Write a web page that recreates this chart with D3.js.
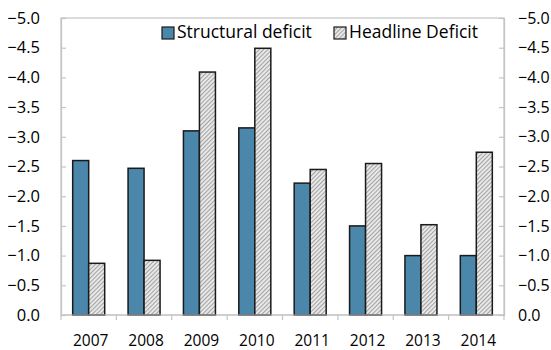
<!DOCTYPE html>
<html>
<head>
<meta charset="utf-8">
<script src="https://cdn.jsdelivr.net/npm/d3@7"></script>
<style>
  html, body { margin: 0; padding: 0; background: #fff; }
  svg { display: block; }
  text { font-family: "Open Sans", "Noto Sans", sans-serif; fill: #000; }
</style>
</head>
<body>
<svg id="chart" width="551" height="350"></svg>
<script>
// Budget balance, % of GDP
const years = ["2007", "2008", "2009", "2010", "2011", "2012", "2013", "2014"];
const structuralDeficit = [-2.6, -2.47, -3.1, -3.15, -2.22, -1.5, -1.0, -1.0];
const headlineDeficit = [-0.87, -0.92, -4.09, -4.49, -2.45, -2.55, -1.52, -2.74];
const seriesNames = ["Structural deficit", "Headline Deficit"];
const yTicks = [0, -0.5, -1.0, -1.5, -2.0, -2.5, -3.0, -3.5, -4.0, -4.5, -5.0];

const svg = d3.select("#chart");
const margin = { left: 61, right: 47, top: 18, bottom: 35 };
const W = 551, H = 350;
const plotW = W - margin.left - margin.right;
const plotH = H - margin.top - margin.bottom;

// Fine diagonal hatch for the headline deficit bars
const defs = svg.append("defs");
const pat = defs.append("pattern")
  .attr("id", "hatch")
  .attr("patternUnits", "userSpaceOnUse")
  .attr("width", 3).attr("height", 3)
  .attr("patternTransform", "rotate(45)");
pat.append("rect").attr("width", 3).attr("height", 3).attr("fill", "#ebebeb");
pat.append("line").attr("x1", 0.5).attr("y1", 0).attr("x2", 0.5).attr("y2", 3)
  .attr("stroke", "#a3a3a3").attr("stroke-width", 1.2);

const g = svg.append("g").attr("transform", `translate(${margin.left},${margin.top})`);

const x = d3.scaleBand().domain(years).range([0, plotW]);
const y = d3.scaleLinear().domain([0, -5]).range([plotH, 0]);

const barW = 16;
const fills = ["#4a87aa", "url(#hatch)"];
const series = [structuralDeficit, headlineDeficit];

// Plot frame
g.append("rect").attr("x", 0).attr("y", 0).attr("width", plotW).attr("height", plotH)
  .attr("fill", "none").attr("stroke", "#c4c4c4").attr("stroke-width", 1.2);

// Bars
series.forEach((vals, si) => {
  g.selectAll(null).data(vals).enter().append("rect")
    .attr("x", (d, i) => x(years[i]) + x.bandwidth() / 2 - barW + si * barW)
    .attr("y", d => y(d))
    .attr("width", barW)
    .attr("height", d => y(0) - y(d))
    .attr("fill", fills[si])
    .attr("stroke", "#1a1a1a")
    .attr("stroke-width", 1.5);
});

// Left axis
const yLeft = d3.axisLeft(y).tickValues(yTicks).tickFormat(d3.format(".1f")).tickSize(-5).tickPadding(21);
const gl = g.append("g").call(yLeft);
gl.select(".domain").attr("stroke", "#c4c4c4").attr("stroke-width", 1.2);
gl.selectAll(".tick line").attr("stroke", "#c4c4c4").attr("stroke-width", 1.2);
gl.selectAll("text").style("font-size", "16.5px").attr("fill", "#000");

// Right axis
const yRight = d3.axisRight(y).tickValues(yTicks).tickFormat(d3.format(".1f")).tickSize(-5).tickPadding(14);
const gr = g.append("g").attr("transform", `translate(${plotW},0)`).call(yRight);
gr.select(".domain").attr("stroke", "#c4c4c4").attr("stroke-width", 1.2);
gr.selectAll(".tick line").attr("stroke", "#c4c4c4").attr("stroke-width", 1.2);
gr.selectAll("text").style("font-size", "16px").attr("fill", "#000");

// Bottom axis with ticks at category boundaries
const gb = g.append("g").attr("transform", `translate(0,${plotH})`);
gb.append("line").attr("x1", 0).attr("x2", plotW).attr("stroke", "#c4c4c4").attr("stroke-width", 1.2);
const bounds = years.map(yr => x(yr)).concat([plotW]);
gb.selectAll(null).data(bounds).enter().append("line")
  .attr("x1", d => d).attr("x2", d => d).attr("y1", 0).attr("y2", 5)
  .attr("stroke", "#c4c4c4").attr("stroke-width", 1.2);
gb.selectAll(null).data(years).enter().append("text")
  .attr("x", d => x(d) + x.bandwidth() / 2 + 2)
  .attr("y", 31)
  .attr("text-anchor", "middle")
  .style("font-size", "15.5px")
  .text(d => d);

// Legend
const legend = svg.append("g").attr("transform", "translate(162,24)");
const lx = [0, 172];
seriesNames.forEach((name, i) => {
  legend.append("rect").attr("x", lx[i]).attr("y", 3).attr("width", 12).attr("height", 12)
    .attr("fill", fills[i]).attr("stroke", "#1a1a1a").attr("stroke-width", 1.2);
  legend.append("text").attr("x", lx[i] + 15).attr("y", 14)
    .style("font-size", "17.5px").text(name);
});
</script>
</body>
</html>
